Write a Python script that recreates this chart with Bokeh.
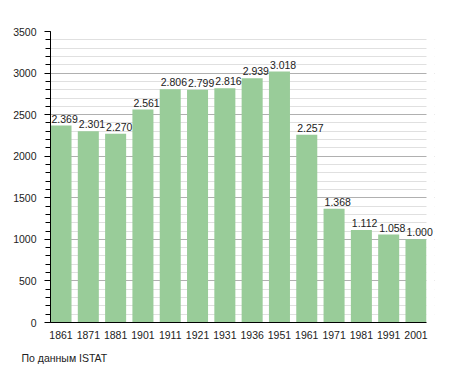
from bokeh.plotting import figure
from bokeh.models import ColumnDataSource, FixedTicker, Range1d, LabelSet, Title
from bokeh.core.properties import value
from bokeh.embed import file_html
from bokeh.resources import INLINE

years = ["1861", "1871", "1881", "1901", "1911", "1921", "1931", "1936",
         "1951", "1961", "1971", "1981", "1991", "2001"]
population = [2369, 2301, 2270, 2561, 2806, 2799, 2816, 2939, 3018, 2257,
              1368, 1112, 1058, 1000]
source_note = "По данным  ISTAT"

n = len(years)
xs = list(range(n))
labels = [f"{v:,}".replace(",", ".") for v in population]

W = 0.77                      # bar width (data units)
BAR_PX = 376                  # pixel span of the bars region
EXTRA_PX = 8                  # extra room on the right for the last label
scale = BAR_PX / (n - 1 + W)
x_end_bars = n - 1 + W / 2
x_end = x_end_bars + EXTRA_PX / scale

src = ColumnDataSource(dict(x=xs, xl=[x - W / 2 for x in xs],
                            top=population, label=labels))

p = figure(width=447, height=372, output_backend="svg", toolbar_location=None,
           x_range=Range1d(-W / 2, x_end),
           y_range=Range1d(0, 3500),
           min_border_left=50, min_border_right=21 - EXTRA_PX,
           min_border_top=31, min_border_bottom=49)
p.outline_line_color = None
p.background_fill_color = "white"

p.vbar(x="x", top="top", width=W, source=src, color="#99cc99", line_color=None)
# hide grid in the spare strip right of the last bar
p.quad(left=[x_end_bars], right=[x_end], bottom=[0], top=[3500],
       color="white", line_color=None)

p.add_layout(LabelSet(x="xl", y="top", text="label", source=src,
                      text_align="left", text_baseline="bottom",
                      x_offset=1, y_offset=3,
                      text_font=value("Liberation Sans"),
                      text_font_size=value("10.5px"),
                      text_color="#222222"))

# axes
p.xaxis.ticker = FixedTicker(ticks=xs)
p.xaxis.major_label_overrides = {i: y for i, y in enumerate(years)}
p.xaxis.bounds = (-W / 2, x_end_bars)
p.xaxis.major_tick_line_color = None
p.xaxis.minor_tick_line_color = None
p.xaxis.axis_line_color = "black"
p.xaxis.major_label_text_font = "Liberation Sans"
p.xaxis.major_label_text_font_size = "10.5px"
p.xaxis.major_label_text_color = "#222222"
p.xaxis.major_label_standoff = 2

p.yaxis.ticker = FixedTicker(ticks=list(range(0, 3501, 500)),
                             minor_ticks=list(range(0, 3501, 100)))
p.yaxis.major_tick_out = 6
p.yaxis.major_tick_in = 0
p.yaxis.minor_tick_out = 5
p.yaxis.minor_tick_in = 0
p.yaxis.axis_line_color = "black"
p.yaxis.major_label_text_font = "Liberation Sans"
p.yaxis.major_label_text_font_size = "10.5px"
p.yaxis.major_label_text_color = "#222222"
p.yaxis.major_label_standoff = 8

p.xgrid.grid_line_color = None
p.ygrid.grid_line_color = "#b0b0b0"
p.ygrid.minor_grid_line_color = "#e0e0e0"
p.ygrid.level = "underlay"

p.add_layout(Title(text=source_note, align="left", offset=-29, standoff=17,
                   text_font="Liberation Sans", text_font_size="10.5px",
                   text_font_style="normal", text_color="#222222"), "below")

open("out.html", "w").write(file_html(p, INLINE))
